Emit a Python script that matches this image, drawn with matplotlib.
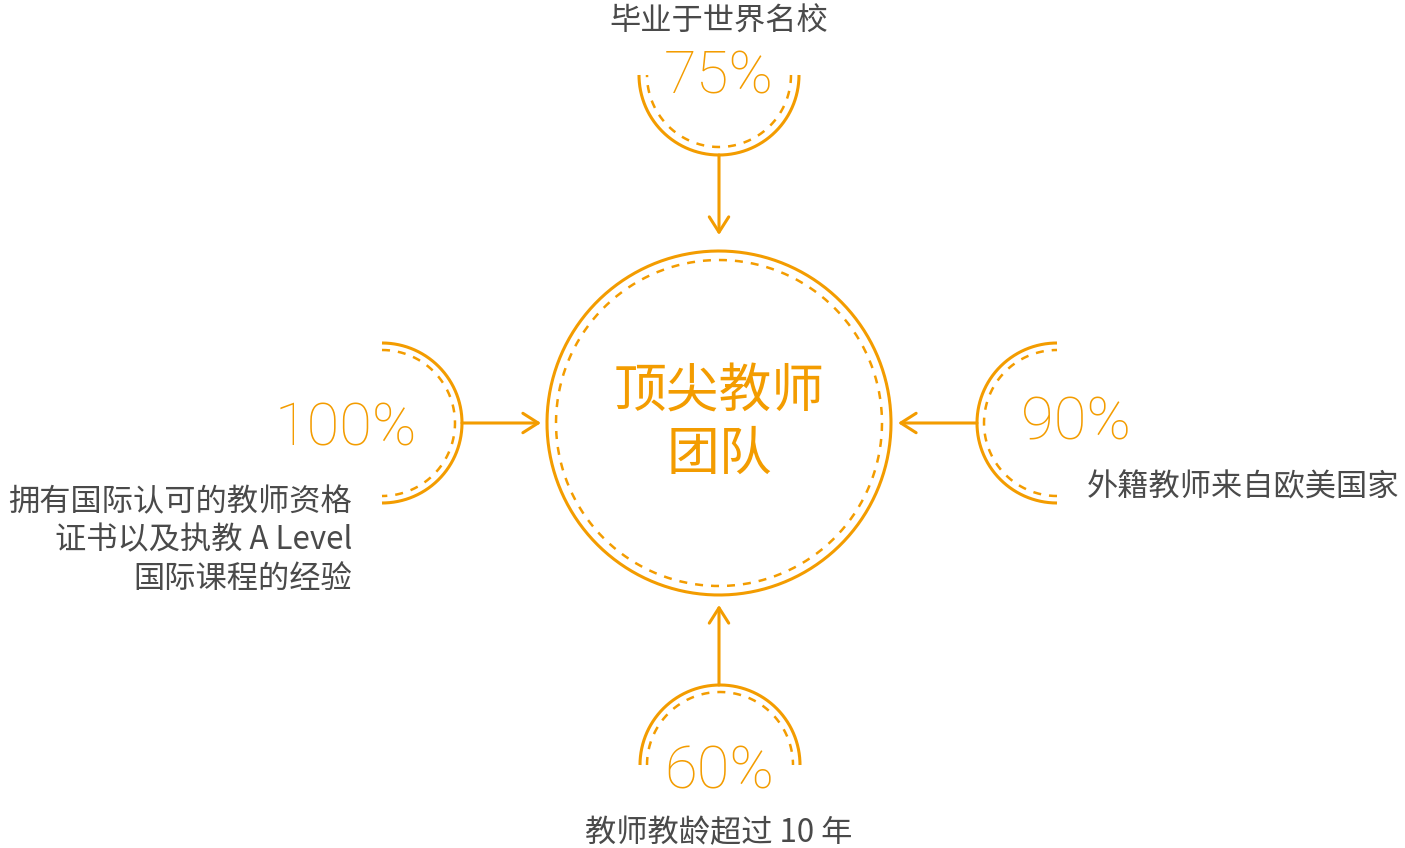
import numpy as np
import matplotlib.pyplot as plt

plt.rcParams['font.family'] = ['Noto Sans CJK SC', 'DejaVu Sans']

# data
center_lines = ["顶尖教师", "团队"]
pct_values = [75, 100, 90, 60]          # top, left, right, bottom
desc_top = ["毕业于世界名校"]
desc_left = ["拥有国际认可的教师资格", "证书以及执教 A Level", "国际课程的经验"]
desc_right = ["外籍教师来自欧美国家"]
desc_bottom = ["教师教龄超过 10 年"]

orange = "#F39C00"
grey = "#4a4a4a"

fig = plt.figure(figsize=(14.05, 8.48), dpi=100)
ax = fig.add_axes([0, 0, 1, 1])
ax.set_xlim(0, 1405)
ax.set_ylim(848, 0)
ax.axis("off")


def arc(cx, cy, r, a0, a1, dashed=False, lw=2.2):
    t = np.radians(np.linspace(a0, a1, 300))
    x = cx + r * np.cos(t)
    y = cy + r * np.sin(t)
    if dashed:
        ax.plot(x, y, color=orange, lw=1.8, dashes=(3.2, 3.2), solid_capstyle="butt")
    else:
        ax.plot(x, y, color=orange, lw=lw, solid_capstyle="butt")


def arrow(x0, y0, x1, y1):
    ax.annotate("", xy=(x1, y1), xytext=(x0, y0),
                arrowprops=dict(arrowstyle="->,head_length=0.55,head_width=0.35",
                                color=orange, lw=2.2, shrinkA=0, shrinkB=0,
                                mutation_scale=20))


# center circle
cx, cy = 719, 423
arc(cx, cy, 172, 0, 360)
arc(cx, cy, 163, 0, 360, dashed=True)
for i, s in enumerate(center_lines):
    ax.text(cx, 391 + i * 63, s, color=orange, fontsize=38, ha="center", va="center",
            fontweight="light")

pct_font = dict(family=["Roboto", "DejaVu Sans"], fontweight="light", fontsize=43,
                color=orange, ha="center", va="center")
txt_font = dict(fontsize=22.5, color=grey, fontweight="light")

# top
arc(719, 75, 80, 0, 180)
arc(719, 75, 72, 0, 180, dashed=True)
arrow(719, 155, 719, 235)
ax.text(719, 77, f"{pct_values[0]}%", **pct_font)
ax.text(719, 22, desc_top[0], ha="center", va="center", **txt_font)

# left
arc(382, 423, 80, -90, 90)
arc(382, 423, 73, -90, 90, dashed=True)
arrow(462, 423, 541, 423)
ax.text(346, 429, f"{pct_values[1]}%", **pct_font)
for i, s in enumerate(desc_left):
    ax.text(352, 502 + i * 38.5, s, ha="right", va="center", **txt_font)

# right
arc(1057, 423, 80, 90, 270)
arc(1057, 423, 73, 90, 270, dashed=True)
arrow(977, 423, 898, 423)
ax.text(1076, 423, f"{pct_values[2]}%", **pct_font)
ax.text(1087, 487, desc_right[0], ha="left", va="center", **txt_font)

# bottom
arc(720, 765, 80, 180, 360)
arc(720, 765, 73, 180, 360, dashed=True)
arrow(719, 685, 719, 605)
ax.text(719, 772, f"{pct_values[3]}%", **pct_font)
ax.text(719, 833, desc_bottom[0], ha="center", va="center", **txt_font)

fig.savefig("out.png", dpi=100, facecolor="white")
